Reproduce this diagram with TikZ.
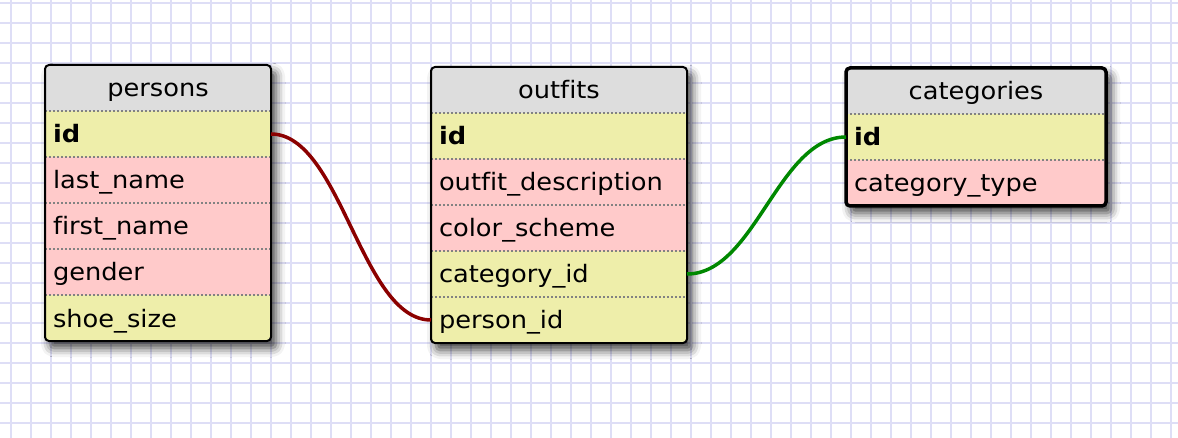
\documentclass[tikz,border=0pt]{standalone}
\usepackage{fontspec}
\setmainfont[Ligatures=NoCommon, FakeStretch=1.07]{DejaVu Sans}
\usetikzlibrary{shadows.blur}
\definecolor{hdrc}{RGB}{221,221,221}
\definecolor{keyc}{RGB}{238,238,170}
\definecolor{fldc}{RGB}{255,202,202}
\definecolor{gridc}{RGB}{222,222,246}
\definecolor{sepc}{RGB}{130,130,130}
\definecolor{relred}{RGB}{139,0,0}
\definecolor{relgreen}{RGB}{0,136,0}
\begin{document}
\begin{tikzpicture}[x=1pt,y=-1pt,
  cell/.style={anchor=north west, inner xsep=8pt, inner ysep=0pt, outer sep=0pt,
    text height=32pt, text depth=14pt, font=\fontsize{24}{28}\selectfont, align=left},
  hcell/.style={cell, fill=hdrc, align=center},
  kcell/.style={cell, fill=keyc},
  fcell/.style={cell, fill=fldc},
  sep/.style={sepc, line width=1.5pt, dash pattern=on 2pt off 2pt},
  border/.style={black, line width=2pt, rounded corners=4pt},
  shade/.style={fill=white, blur shadow={shadow xshift=5pt, shadow yshift=-7pt, shadow blur radius=9pt, shadow opacity=75}},
  rel/.style={line width=3.5pt}]
\useasboundingbox (0,0) rectangle (1178,438);
% grid
\foreach \gx in {11,31,...,1171} \draw[gridc, line width=1.6pt] (\gx,0) -- (\gx,438);
\foreach \gy in {3,23,...,433} \draw[gridc, line width=1.6pt] (0,\gy) -- (1178,\gy);
% shadows
\path[shade, rounded corners=4pt] (45,65) rectangle (271,341);
\path[shade, rounded corners=4pt] (431,67) rectangle (687,343);
\path[shade, rounded corners=4pt] (846,68) rectangle (1106,206);
% persons
\begin{scope}
\clip[rounded corners=4pt] (45,65) rectangle (271,341);
\node[hcell, text width=210pt] (p-h) at (45,65) {persons};
\node[kcell, text width=210pt] (p-id) at (45,111) {\textbf{id}};
\node[fcell, text width=210pt] (p-ln) at (45,157) {last\_name};
\node[fcell, text width=210pt] (p-fn) at (45,203) {first\_name};
\node[fcell, text width=210pt] (p-g) at (45,249) {gender};
\node[kcell, text width=210pt] (p-ss) at (45,295) {shoe\_size};
\end{scope}
\foreach \n in {p-id,p-ln,p-fn,p-g,p-ss} \draw[sep] (\n.north west) -- (\n.north east);
\draw[border] (45,65) rectangle (271,341);
% outfits
\begin{scope}
\clip[rounded corners=4pt] (431,67) rectangle (687,343);
\node[hcell, text width=240pt] (o-h) at (431,67) {outfits};
\node[kcell, text width=240pt] (o-id) at (431,113) {\textbf{id}};
\node[fcell, text width=240pt] (o-od) at (431,159) {outfit\_description};
\node[fcell, text width=240pt] (o-cs) at (431,205) {color\_scheme};
\node[kcell, text width=240pt] (o-cid) at (431,251) {category\_id};
\node[kcell, text width=240pt] (o-pid) at (431,297) {person\_id};
\end{scope}
\foreach \n in {o-id,o-od,o-cs,o-cid,o-pid} \draw[sep] (\n.north west) -- (\n.north east);
\draw[border] (431,67) rectangle (687,343);
% categories
\begin{scope}
\clip[rounded corners=4pt] (846,68) rectangle (1106,206);
\node[hcell, text width=244pt] (c-h) at (846,68) {categories};
\node[kcell, text width=244pt] (c-id) at (846,114) {\textbf{id}};
\node[fcell, text width=244pt] (c-ct) at (846,160) {category\_type};
\end{scope}
\foreach \n in {c-id,c-ct} \draw[sep] (\n.north west) -- (\n.north east);
\draw[border, line width=3.5pt] (846,68) rectangle (1106,206);
% relations
\draw[rel, relred] (p-id.east) .. controls +(70,0) and +(-70,0) .. (o-pid.west);
\draw[rel, relgreen] (o-cid.east) .. controls +(68,0) and +(-68,0) .. (c-id.west);
\end{tikzpicture}
\end{document}
